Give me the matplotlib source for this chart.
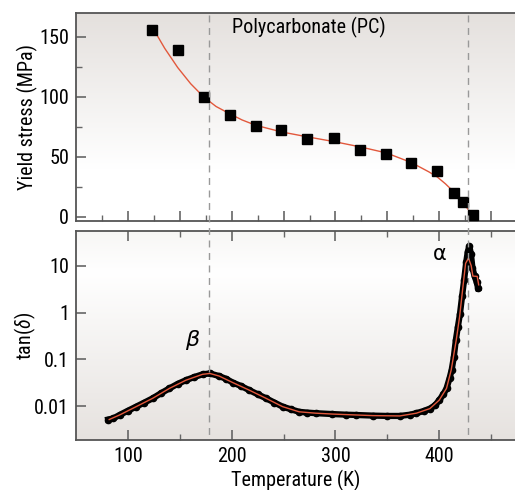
import numpy as np
import matplotlib
matplotlib.use("Agg")
import matplotlib.pyplot as plt
from matplotlib.lines import Line2D
from matplotlib import transforms
from matplotlib import font_manager as fm
from matplotlib.colors import LinearSegmentedColormap

# ---- pick a condensed sans font if one is installed ----
names_stretch = [(f.name, f.stretch, f.style, f.weight) for f in fm.fontManager.ttflist]
chosen, stretch = None, 'normal'
for pref in ['Liberation Sans Narrow', 'Roboto Condensed', 'Open Sans Condensed',
             'DejaVu Sans Condensed', 'Noto Sans Condensed', 'Arial Narrow']:
    if any(n == pref for n, *_ in names_stretch):
        chosen = pref
        break
if chosen is None:
    for n, s, st, w in names_stretch:
        if st == 'normal' and (s in ('condensed', 'semi-condensed', 'extra-condensed')
                               or (isinstance(s, int) and s < 500)):
            if n in ('Roboto', 'DejaVu Sans', 'Noto Sans', 'Open Sans', 'Liberation Sans', 'Lato', 'Inter'):
                chosen, stretch = n, s
                break
if chosen is None:
    chosen = 'Liberation Sans'
FONT = [chosen, 'DejaVu Sans']
plt.rcParams['font.family'] = FONT
plt.rcParams['font.stretch'] = stretch
plt.rcParams['mathtext.fontset'] = 'custom'
plt.rcParams['mathtext.rm'] = chosen
plt.rcParams['mathtext.it'] = chosen + ':italic'

# ---- Yield stress data (top panel) ----
ys_temp = [123, 148, 173, 198, 223, 248, 273, 299, 324, 349, 373, 398, 414, 423, 433]
ys_value = [156, 139, 100, 85, 76, 72, 65, 66, 56, 52, 45, 38, 20, 12, 1.5]

ys_fit_temp = [123, 135.5, 148, 160.5, 173, 185, 198, 210, 223, 248, 273, 300, 324, 349, 373, 390, 398, 406, 414, 423, 432]
ys_fit_value = [159, 140.5, 124.5, 111, 100, 92, 86, 80.8, 76.4, 70.8, 66.7, 62.5, 58.3, 53.3, 45.3, 37.5, 33.3, 27.5, 20.8, 11.7, 1.4]

# ---- tan(delta) data (bottom panel) ----
td_temp = [81, 86, 92, 100, 108, 116, 124, 132, 140, 148, 156, 164, 172, 179, 188, 195, 201, 209,
           217, 225, 233, 241, 249, 257, 265, 273, 281, 297, 310, 320, 336, 350, 362, 372, 378,
           385, 391, 396, 400, 404, 407, 410, 412, 414, 416, 418, 420, 422, 424, 426, 427.5,
           429, 430.5, 432, 434, 436, 437.5]
td_value = [0.0052, 0.0055, 0.0065, 0.0080, 0.0098, 0.0120, 0.0148, 0.0190, 0.024, 0.030, 0.036,
            0.042, 0.048, 0.050, 0.044, 0.038, 0.032, 0.027, 0.022, 0.018, 0.0148, 0.012, 0.0098,
            0.0086, 0.0076, 0.0073, 0.0071, 0.0068, 0.0066, 0.0065, 0.0063, 0.0062, 0.0062, 0.0066,
            0.0071, 0.0079, 0.0089, 0.0105, 0.0135, 0.018, 0.024, 0.040, 0.060, 0.11, 0.26, 0.50,
            0.95, 2.2, 5.0, 12.0, 20.0, 26.0, 18.0, 9.0, 6.0, 4.5, 3.3]

td_fit_temp = [82, 92, 108, 124, 140, 156, 172, 179, 188, 201, 217, 233, 249, 265, 281, 297, 320,
               336, 362, 378, 391, 400, 407, 411.5, 416.4, 419.6, 422.8, 425.4, 428.2, 430.8,
               432.4, 436.6, 438]
td_fit_value = [0.0052, 0.0065, 0.0098, 0.0148, 0.024, 0.036, 0.048, 0.050, 0.044, 0.032, 0.022,
                0.0148, 0.0098, 0.0076, 0.0071, 0.0068, 0.0065, 0.0063, 0.0062, 0.0071, 0.0089,
                0.0135, 0.024, 0.059, 0.26, 0.81, 3.5, 11.2, 14.5, 10.0, 6.0, 5.9, 3.9]

transition_temps = [178.5, 427.6]

W, H = 515, 490
fig = plt.figure(figsize=(W / 100, H / 100), dpi=100)

def fx(px):
    return px / W

def fy(py):
    return 1 - py / H

left, right = 76, 515
ax1 = fig.add_axes([fx(left), fy(221), fx(right - left), fy(13) - fy(221)])
ax2 = fig.add_axes([fx(left), fy(440), fx(right - left), fy(231) - fy(440)])

RED = '#e2583c'
SPINE = '#555555'

g1 = LinearSegmentedColormap.from_list('g1', [(0, '#e4e0dd'), (0.75, '#ffffff'), (1, '#ffffff')])
g2 = LinearSegmentedColormap.from_list('g2', [(0, '#f7f6f5'), (0.2, '#ffffff'), (1, '#e6e2df')])
grad = np.linspace(0, 1, 256).reshape(-1, 1)
ax1.imshow(grad, cmap=g1, aspect='auto', extent=[0, 1, 0, 1], origin='upper',
           transform=ax1.transAxes, zorder=0, interpolation='bilinear')
ax2.imshow(grad, cmap=g2, aspect='auto', extent=[0, 1, 0, 1], origin='upper',
           transform=ax2.transAxes, zorder=0, interpolation='bilinear')

FS = 14.5

# top panel
ax1.plot(ys_fit_temp, ys_fit_value, color=RED, lw=1.0, zorder=3)
ax1.plot(ys_temp, ys_value, 's', color='black', ms=6.5, zorder=4)
ax1.set_xlim(50, 473)
ax1.set_ylim(-3.5, 170)
ax1.set_yticks([0, 50, 100, 150])
ax1.set_yticks([25, 75, 125], minor=True)
ax1.set_xticks([100, 150, 200, 250, 300, 350, 400, 450])
ax1.set_xticks([75, 125, 175, 225, 275, 325, 375, 425], minor=True)
ax1.tick_params(axis='x', which='both', labelbottom=False, bottom=True, top=False)
ax1.set_ylabel('Yield stress (MPa)', fontsize=FS)
ax1.text(200, 158, 'Polycarbonate (PC)', fontsize=FS, ha='left', va='center')

# bottom panel
ax2.plot(td_temp, td_value, '-o', color='black', lw=4.5, ms=4.5, zorder=3)
ax2.plot(td_fit_temp, td_fit_value, color=RED, lw=1.0, zorder=4)
ax2.set_yscale('log')
ax2.set_xlim(50, 473)
ax2.set_ylim(0.0019, 55)
ax2.set_yticks([0.01, 0.1, 1, 10])
ax2.set_yticklabels(['0.01', '0.1', '1', '10'])
ax2.yaxis.set_minor_locator(matplotlib.ticker.NullLocator())
ax2.set_xticks([100, 200, 300, 400])
ax2.set_xticks([150, 250, 350, 450], minor=True)
ax2.tick_params(axis='x', which='both', top=True, bottom=True)
ax2.set_xlabel('Temperature (K)', fontsize=FS, labelpad=3)
ax2.set_ylabel(r'tan($\delta$)', fontsize=FS)
ax2.text(162, 0.26, 'β', fontsize=16, style='italic', ha='center', va='center',
         family=['DejaVu Sans'])
ax2.text(400.5, 17.8, 'α', fontsize=15, ha='center', va='center', family=['DejaVu Sans'])

for ax in (ax1, ax2):
    for s in ('left', 'bottom', 'top'):
        ax.spines[s].set_color(SPINE)
        ax.spines[s].set_linewidth(1.3)
    ax.spines['right'].set_visible(False)
    ax.tick_params(which='major', direction='in', length=7, width=1.2, color='#666666',
                   labelsize=FS, pad=5)
    ax.tick_params(which='minor', direction='in', length=4, width=1.0, color='#666666')
    ax.tick_params(axis='y', which='both', right=False)

ax1.yaxis.set_label_coords((27 - left) / (right - left), 0.5)
ax2.yaxis.set_label_coords((25 - left) / (right - left), 0.5)
ax1.yaxis.label.set_va('center')
ax2.yaxis.label.set_va('center')

trans = transforms.blended_transform_factory(ax2.transData, fig.transFigure)
for t in transition_temps:
    fig.add_artist(Line2D([t, t], [fy(15), fy(440)], transform=trans, color='#999999',
                          lw=1.0, dashes=(5, 4), zorder=5))

fig.savefig('out.png', dpi=100)
